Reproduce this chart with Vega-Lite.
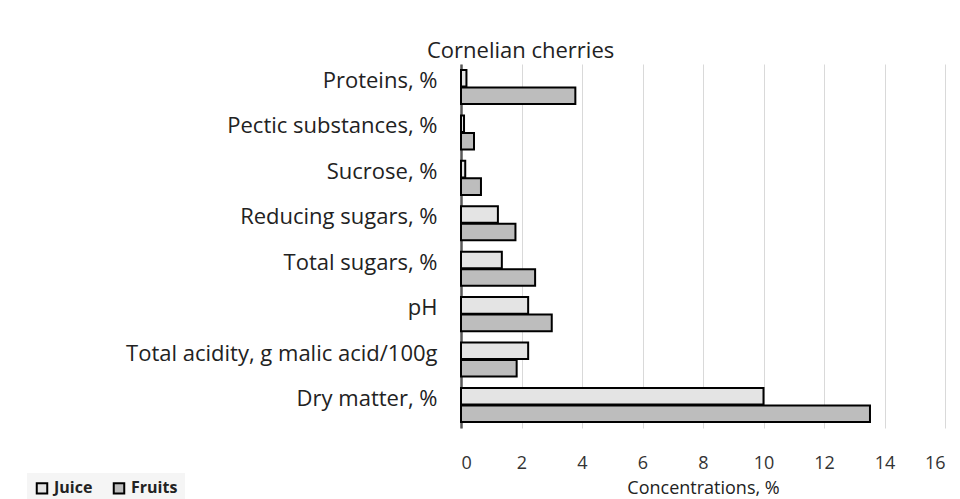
{
  "$schema": "https://vega.github.io/schema/vega-lite/v6.json",
  "autosize": {"type": "none"},
  "width": 484,
  "height": 364,
  "padding": {"left": 461, "top": 64, "right": 15, "bottom": 71},
  "background": "white",
  "title": {
    "text": "Cornelian cherries",
    "fontSize": 22,
    "font": "Open Sans",
    "fontWeight": "normal",
    "color": "#222222",
    "anchor": "start",
    "frame": "group",
    "dx": -34,
    "offset": 1
  },
  "data": {
    "values": [
      {"parameter": "Proteins, %", "type": "Juice", "value": 0.18},
      {"parameter": "Proteins, %", "type": "Fruits", "value": 3.78},
      {"parameter": "Pectic substances, %", "type": "Juice", "value": 0.1},
      {"parameter": "Pectic substances, %", "type": "Fruits", "value": 0.43},
      {"parameter": "Sucrose, %", "type": "Juice", "value": 0.14},
      {"parameter": "Sucrose, %", "type": "Fruits", "value": 0.66},
      {"parameter": "Reducing sugars, %", "type": "Juice", "value": 1.22},
      {"parameter": "Reducing sugars, %", "type": "Fruits", "value": 1.8},
      {"parameter": "Total sugars, %", "type": "Juice", "value": 1.35},
      {"parameter": "Total sugars, %", "type": "Fruits", "value": 2.45},
      {"parameter": "pH", "type": "Juice", "value": 2.22},
      {"parameter": "pH", "type": "Fruits", "value": 3.0},
      {"parameter": "Total acidity, g malic acid/100g", "type": "Juice", "value": 2.22},
      {"parameter": "Total acidity, g malic acid/100g", "type": "Fruits", "value": 1.84},
      {"parameter": "Dry matter, %", "type": "Juice", "value": 10.0},
      {"parameter": "Dry matter, %", "type": "Fruits", "value": 13.52}
    ]
  },
  "mark": {"type": "bar", "stroke": "black", "strokeWidth": 2},
  "encoding": {
    "y": {
      "field": "parameter",
      "type": "nominal",
      "sort": null,
      "scale": {"paddingInner": 0.25, "paddingOuter": 0.132},
      "axis": {
        "title": null,
        "ticks": false,
        "domain": true,
        "domainColor": "#595959",
        "domainWidth": 2.5,
        "labelFontSize": 22,
        "labelFont": "Open Sans",
        "labelColor": "#222222",
        "labelPadding": 24,
        "labelLimit": 460,
        "labelOffset": -6,
        "grid": false
      }
    },
    "yOffset": {
      "field": "type",
      "type": "nominal",
      "sort": ["Juice", "Fruits"],
      "scale": {"paddingInner": 0.05}
    },
    "x": {
      "field": "value",
      "type": "quantitative",
      "scale": {"domain": [0, 16], "nice": false},
      "axis": {
        "title": "Concentrations, %",
        "titleFontSize": 18,
        "titleFont": "Open Sans",
        "titleFontWeight": "normal",
        "titleColor": "#222222",
        "titlePadding": 7,
        "values": [0, 2, 4, 6, 8, 10, 12, 14, 16],
        "domain": false,
        "ticks": false,
        "labelFontSize": 18,
        "labelFont": "Open Sans",
        "labelColor": "#333333",
        "labelPadding": 26,
        "grid": true,
        "gridColor": "#d9d9d9",
        "gridWidth": 1
      }
    },
    "fill": {
      "field": "type",
      "type": "nominal",
      "sort": ["Juice", "Fruits"],
      "scale": {"domain": ["Juice", "Fruits"], "range": ["#e4e4e4", "#bdbdbd"]},
      "legend": {
        "title": null,
        "orient": "none",
        "direction": "horizontal",
        "legendX": -434,
        "legendY": 409,
        "symbolType": "square",
        "symbolSize": 110,
        "symbolStrokeColor": "black",
        "symbolStrokeWidth": 2,
        "labelFontSize": 16,
        "labelFont": "Open Sans",
        "labelFontWeight": "bold",
        "labelColor": "#222222",
        "columnPadding": 16,
        "fillColor": "#f5f5f5",
        "padding": 7
      }
    }
  },
  "config": {"view": {"stroke": null}}
}
